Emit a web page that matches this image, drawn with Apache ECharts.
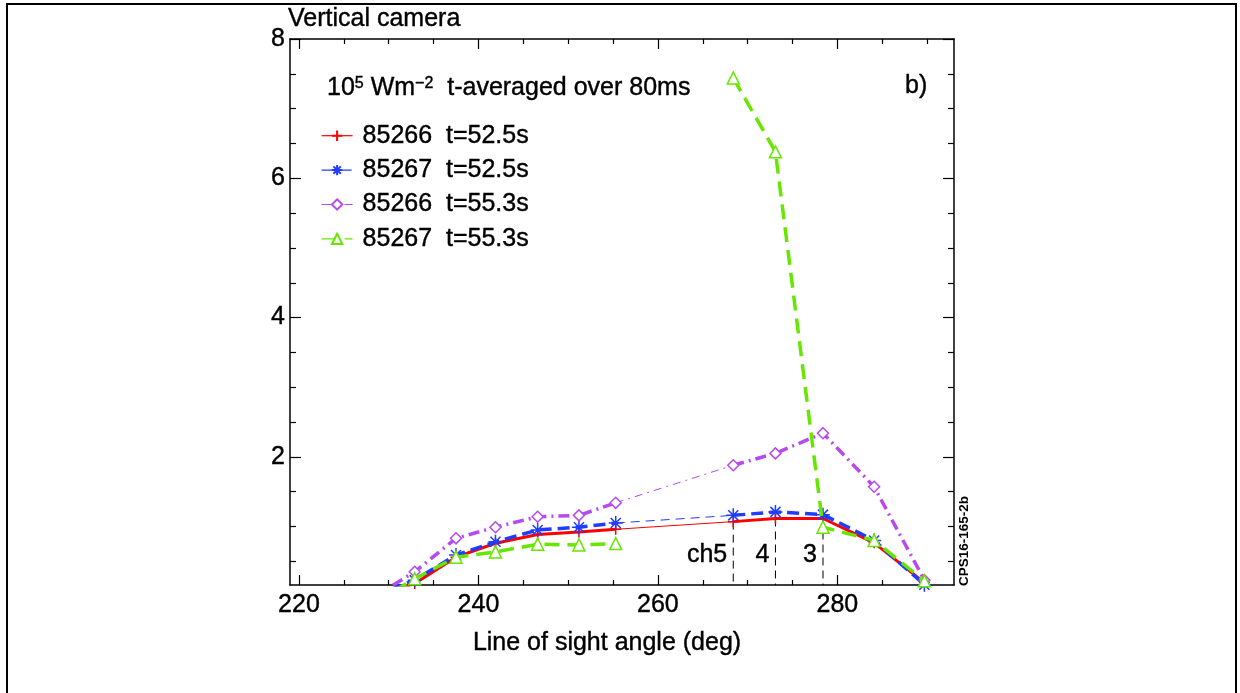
<!DOCTYPE html>
<html>
<head>
<meta charset="utf-8">
<script src="https://cdn.jsdelivr.net/npm/echarts@6/dist/echarts.min.js"></script>
<style>
  html, body { margin: 0; padding: 0; background: #fff; }
  #chart { width: 1240px; height: 693px; }
</style>
</head>
<body>
<div id="chart"></div>
<script>
// Line-of-sight angles (deg) of the vertical camera channels
const angles = [228.3, 232.9, 237.5, 241.9, 246.6, 251.2, 255.3, 268.4, 273.1, 278.4, 284.1, 289.7];

// Heat flux, 10^5 W m^-2, averaged over 80 ms
const shot85266_t525 = [0.00, 0.18, 0.56, 0.76, 0.885, 0.92, 0.96, 1.07, 1.115, 1.115, 0.765, 0.195];
const shot85267_t525 = [0.00, 0.23, 0.59, 0.78, 0.95, 0.99, 1.05, 1.16, 1.21, 1.17, 0.80, 0.165];
const shot85266_t553 = [-0.02, 0.35, 0.83, 0.99, 1.14, 1.16, 1.34, 1.88, 2.05, 2.34, 1.57, 0.23];
const shot85267_t553 = [-0.10, 0.25, 0.56, 0.635, 0.745, 0.735, 0.755, 7.44, 6.38, 0.99, 0.80, 0.22];

const seriesNames = ['85266  t=52.5s', '85267  t=52.5s', '85266  t=55.3s', '85267  t=55.3s'];

// Channels marked with dashed lines
const channelIndex = [7, 8, 9];
const channelNames = ['ch5', '4', '3'];

// Axis ticks
const xMajorTicks = [220, 240, 260, 280];
const xMinorTicks = [225, 230, 235, 245, 250, 255, 265, 270, 275, 285, 290];
const yMajorTicks = [2, 4, 6, 8];
const yMinorTicks = [0.5, 1, 1.5, 2.5, 3, 3.5, 4.5, 5, 5.5, 6.5, 7, 7.5];

const X_MIN = 219, X_MAX = 293, Y_MIN = 0.16, Y_MAX = 8;
const FONT = '"Liberation Sans", Arial, Helvetica, sans-serif';
// slight outline to give the text the weight of the printed figure
const INK = { textBorderColor: '#000', textBorderWidth: 0.4 };

// Index ranges: left group, the gap between groups, right group
const LEFT = [0, 6], GAP = [6, 7], RIGHT = [7, 11];

function seg(vals, range) {
  const out = [];
  for (let i = range[0]; i <= range[1]; i++) out.push([angles[i], vals[i]]);
  return out;
}

const PLUS = 'path://M0,-6L0,6M-6,0L6,0';
const STAR = 'path://M0,-6L0,6M-6,0L6,0M-4.3,-4.3L4.3,4.3M-4.3,4.3L4.3,-4.3';

const styles = [
  { vals: shot85266_t525, color: '#ff0000', symbol: PLUS, size: 11, type: 'solid', thinType: 'solid', width: 3, gap: true },
  { vals: shot85267_t525, color: '#1f3cff', symbol: STAR, size: 14, type: [12, 6], thinType: [9, 6], width: 3.5, gap: true },
  { vals: shot85266_t553, color: '#b64af0', symbol: 'diamond', size: 11, type: [11, 5, 2, 5], thinType: [8, 5, 2, 5], width: 3.5, gap: true },
  { vals: shot85267_t553, color: '#66e600', symbol: 'triangle', size: 12, type: [15, 8], thinType: [15, 8], width: 3.5, gap: false }
];

const series = [];
styles.forEach((s, k) => {
  const base = {
    type: 'line',
    name: seriesNames[k],
    clip: true,
    symbol: s.symbol,
    symbolSize: s.size,
    itemStyle: { color: '#fff', borderColor: s.color, borderWidth: 1.5 },
    emphasis: { disabled: true },
    z: 2 + k
  };
  series.push(Object.assign({}, base, {
    data: seg(s.vals, LEFT),
    lineStyle: { color: s.color, width: s.width, type: s.type }
  }));
  if (s.gap) {
    series.push(Object.assign({}, base, {
      data: seg(s.vals, GAP),
      showSymbol: false,
      lineStyle: { color: s.color, width: 1, type: s.thinType },
      z: 1
    }));
  }
  series.push(Object.assign({}, base, {
    data: seg(s.vals, RIGHT),
    lineStyle: { color: s.color, width: s.width, type: s.type }
  }));
});

// Dashed channel markers down to the axis
channelIndex.forEach((idx) => {
  series.push({
    type: 'line',
    data: [[angles[idx], shot85266_t525[idx]], [angles[idx], Y_MIN]],
    showSymbol: false,
    lineStyle: { color: '#000', width: 1, type: [8, 5] },
    emphasis: { disabled: true },
    z: 1
  });
});

// Channel names to the left of each dashed marker
series.push({
  type: 'scatter',
  data: channelIndex.map((idx, i) => ({ value: [angles[idx], 0.585], name: channelNames[i] })),
  symbolSize: 0,
  itemStyle: { opacity: 1 },
  label: Object.assign({
    show: true,
    position: 'left',
    distance: 6,
    formatter: (p) => p.name,
    color: '#000',
    opacity: 1,
    fontFamily: FONT,
    fontSize: 25
  }, INK),
  emphasis: { disabled: true },
  z: 10
});

function axisLabel(ticks, show) {
  return show
    ? Object.assign({ show: true, customValues: ticks, fontFamily: FONT, fontSize: 25, color: '#000', margin: 8 }, INK)
    : { show: false, customValues: ticks };
}
function xAx(position, ticks, len, showLine, showLabel) {
  return {
    type: 'value', position, min: X_MIN, max: X_MAX, gridIndex: 0,
    axisLine: { show: showLine, onZero: false, lineStyle: { color: '#000', width: 1.5 } },
    axisTick: { show: true, inside: true, length: len, customValues: ticks, lineStyle: { color: '#000', width: 1.2 } },
    axisLabel: axisLabel(ticks, showLabel),
    splitLine: { show: false }
  };
}
function yAx(position, ticks, len, showLine, showLabel) {
  const a = {
    type: 'value', position, min: Y_MIN, max: Y_MAX, gridIndex: 0,
    axisLine: { show: showLine, onZero: false, lineStyle: { color: '#000', width: 1.5 } },
    axisTick: { show: true, inside: true, length: len, customValues: ticks, lineStyle: { color: '#000', width: 1.2 } },
    axisLabel: axisLabel(ticks, showLabel),
    splitLine: { show: false }
  };
  if (showLabel) a.axisLabel.margin = 5;
  return a;
}

const chart = echarts.init(document.getElementById('chart'), null, { renderer: 'canvas' });
chart.setOption({
  animation: false,
  backgroundColor: '#fff',
  grid: { left: 290, right: 286, top: 39, bottom: 108, containLabel: false },
  xAxis: [
    xAx('bottom', xMajorTicks, 10, true, true),
    xAx('bottom', xMinorTicks, 5, false, false),
    xAx('top', xMajorTicks, 10, true, false),
    xAx('top', xMinorTicks, 5, false, false)
  ],
  yAxis: [
    yAx('left', yMajorTicks, 11, true, true),
    yAx('left', yMinorTicks, 6, false, false),
    yAx('right', yMajorTicks, 11, true, false),
    yAx('right', yMinorTicks, 6, false, false)
  ],
  legend: {
    data: seriesNames,
    orient: 'vertical',
    left: 316,
    top: 118,
    itemWidth: 31,
    itemHeight: 13,
    itemGap: 9,
    selectedMode: false,
    lineStyle: { width: 1.2 },
    textStyle: Object.assign({ fontFamily: FONT, fontSize: 25, lineHeight: 25, color: '#000', padding: [0, 0, 0, 5] }, INK)
  },
  series,
  graphic: [
    {
      type: 'rect',
      shape: { x: 7, y: 4, width: 1229, height: 760 },
      style: { fill: 'none', stroke: '#000', lineWidth: 2 },
      silent: true
    },
    {
      type: 'text', x: 288, y: 19,
      style: { text: 'Vertical camera', font: '25px ' + FONT, fill: '#000', stroke: '#000', lineWidth: 0.4, verticalAlign: 'middle' }
    },
    {
      type: 'text', x: 327, y: 88,
      style: {
        text: '10{sup|5} Wm{sup|\u22122}  t-averaged over 80ms',
        font: '25px ' + FONT, fill: '#000', stroke: '#000', lineWidth: 0.4, verticalAlign: 'middle',
        rich: { sup: { fontSize: 16, fontFamily: FONT, verticalAlign: 'top', lineHeight: 14, fill: '#000' } }
      }
    },
    {
      type: 'text', x: 905, y: 86,
      style: { text: 'b)', font: '25px ' + FONT, fill: '#000', stroke: '#000', lineWidth: 0.4, verticalAlign: 'middle' }
    },
    {
      type: 'text', x: 607, y: 643,
      style: { text: 'Line of sight angle (deg)', font: '25px ' + FONT, fill: '#000', stroke: '#000', lineWidth: 0.4, align: 'center', verticalAlign: 'middle' }
    },
    {
      type: 'text', x: 964, y: 586, rotation: Math.PI / 2,
      style: { text: 'CPS16-165-2b', font: 'bold 13.5px ' + FONT, fill: '#000', align: 'left', verticalAlign: 'middle' }
    }
  ]
});
</script>
</body>
</html>
